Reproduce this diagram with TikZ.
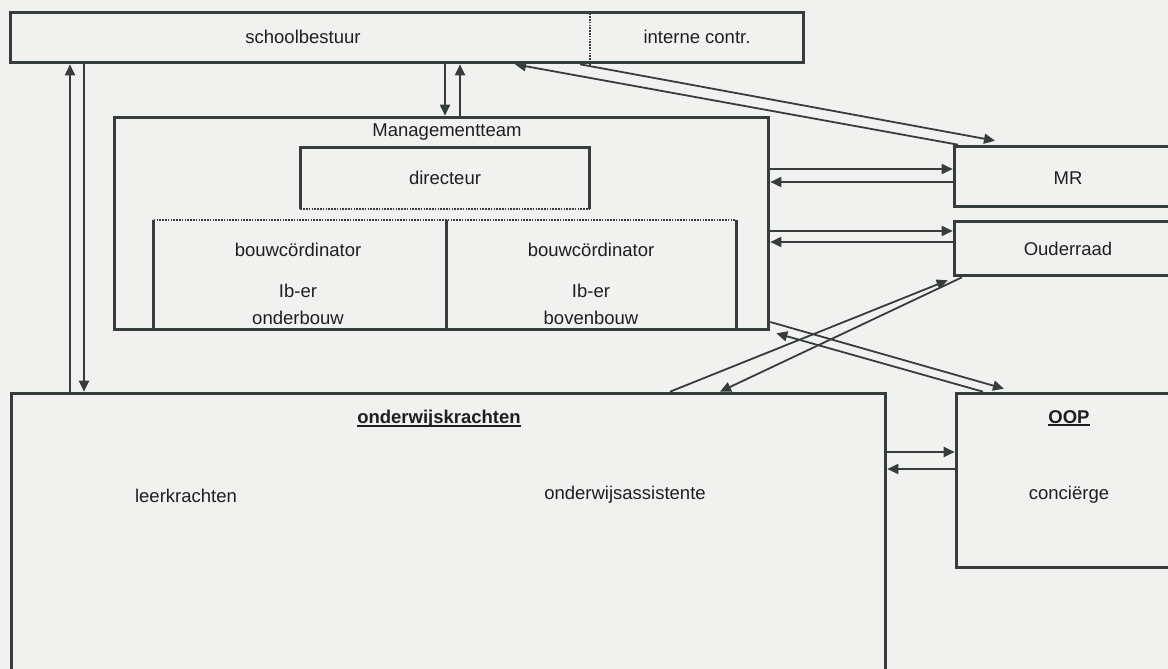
\documentclass[tikz,border=0pt]{standalone}
\usepackage{fontspec}
\setmainfont{Liberation Sans}
\usetikzlibrary{arrows.meta,calc}
\definecolor{ink}{RGB}{55,60,60}
\definecolor{paper}{RGB}{241,241,240}
\newsavebox\myulbox
\newcommand{\ulbold}[1]{\sbox\myulbox{\bfseries #1}\rlap{\rule[-2.8pt]{\wd\myulbox}{1.4pt}}\usebox\myulbox}
\begin{document}
\begin{tikzpicture}[x=1pt,y=-1pt,
  box/.style={draw=ink,line width=3.6pt,inner sep=0pt,rectangle},
  frame/.style={inner sep=0pt,rectangle},
  wall/.style={draw=ink,line width=3.2pt},
  dots/.style={draw=ink,line width=2pt,dash pattern=on 1.6pt off 1.2pt},
  conn/.style={draw=ink,line width=1.8pt,-{Triangle[length=11pt,width=10pt]}},
  txt/.style={inner sep=0pt,font=\fontsize{18.5}{22}\selectfont,text=black!88}]
\useasboundingbox (0,0) rectangle (1168,669);
\fill[paper] (0,0) rectangle (1168,669);
\clip (0,0) rectangle (1168,669);

% boxes
\node[box,minimum width=793pt,minimum height=50pt] (sb) at (407,37.5) {};
\node[box,minimum width=654pt,minimum height=212pt] (mt) at (441.5,223.5) {};
\node[box,minimum width=245pt,minimum height=60pt] (mr) at (1077,176.5) {};
\node[box,minimum width=245pt,minimum height=54pt] (ouder) at (1077,248.5) {};
\node[box,minimum width=874pt,minimum height=326pt] (owk) at (448.5,556.5) {};
\node[box,minimum width=243pt,minimum height=174pt] (oop) at (1078,480.5) {};

% divider in schoolbestuur
\draw[dots] (590,0 |- sb.north) -- (590,0 |- sb.south);

% directeur box
\node[frame,minimum width=289pt,minimum height=61pt,txt] (dir) at (445,178) {directeur};
\draw[wall] (dir.south west) -- (dir.north west) -- (dir.north east) -- (dir.south east);
\draw[dots] (dir.south west) -- (dir.south east);

% bouw boxes
\node[frame,minimum width=292pt,minimum height=109.5pt] (bl) at (300,274.75) {};
\node[frame,minimum width=290pt,minimum height=109.5pt] (br) at (591,274.75) {};
\draw[dots] (bl.north west) -- (br.north east);
\draw[wall] (bl.north west) -- (bl.south west);
\draw[wall] (bl.north east) -- (bl.south east);
\draw[wall] (br.north east) -- (br.south east);

% texts
\node[txt] (tsb) at (303,37) {schoolbestuur};
\node[txt] (tic) at (697,37) {interne contr.};
\node[txt] (tmt) at (447,132) {Managementteam};
\node[txt] (tb1) at (298,250) {bouwcördinator};
\node[txt] (ti1) at (298,291) {Ib-er};
\node[txt] (to1) at (298,318) {onderbouw};
\node[txt] (tb2) at (591,250) {bouwcördinator};
\node[txt] (ti2) at (591,291) {Ib-er};
\node[txt] (to2) at (591,318) {bovenbouw};
\node[txt] (tmr) at (1068,178) {MR};
\node[txt] (tou) at (1068,249) {Ouderraad};
\node[txt] (towk) at (439,419) {\ulbold{onderwijskrachten}};
\node[txt] (tlk) at (186,496) {leerkrachten};
\node[txt] (toa) at (625,495) {onderwijsassistente};
\node[txt] (toop) at (1069,418) {\ulbold{OOP}};
\node[txt] (tcon) at (1069,495) {conciërge};

% connectors
\draw[conn] (70,0 |- owk.north) -- (70,0 |- sb.south);
\draw[conn] (84,0 |- sb.south) -- (84,0 |- owk.north);
\draw[conn] (445,0 |- sb.south) -- (445,0 |- mt.north);
\draw[conn] (460,0 |- mt.north) -- (460,0 |- sb.south);
\draw[conn] (958,0 |- mr.north) -- (515,0 |- sb.south);
\draw[conn] (580,0 |- sb.south) -- ($(995,0 |- mr.north)+(0,-4)$);
\draw[conn] (mt.east |- 0,169) -- (mr.west |- 0,169);
\draw[conn] (mr.west |- 0,182) -- (mt.east |- 0,182);
\draw[conn] (mt.east |- 0,231) -- (ouder.west |- 0,231);
\draw[conn] (ouder.west |- 0,242) -- (mt.east |- 0,242);
\draw[conn] (670,0 |- owk.north) -- ($(ouder.south west)+(-5,3)$);
\draw[conn] (962,0 |- ouder.south) -- (720,0 |- owk.north);
\draw[conn] (mt.east |- 0,322) -- ($(1004,0 |- oop.north)+(0,-3)$);
\draw[conn] (983,0 |- oop.north) -- ($(mt.south east)+(6,2)$);
\draw[conn] (owk.east |- 0,452) -- (oop.west |- 0,452);
\draw[conn] (oop.west |- 0,469) -- (owk.east |- 0,469);
\end{tikzpicture}
\end{document}
